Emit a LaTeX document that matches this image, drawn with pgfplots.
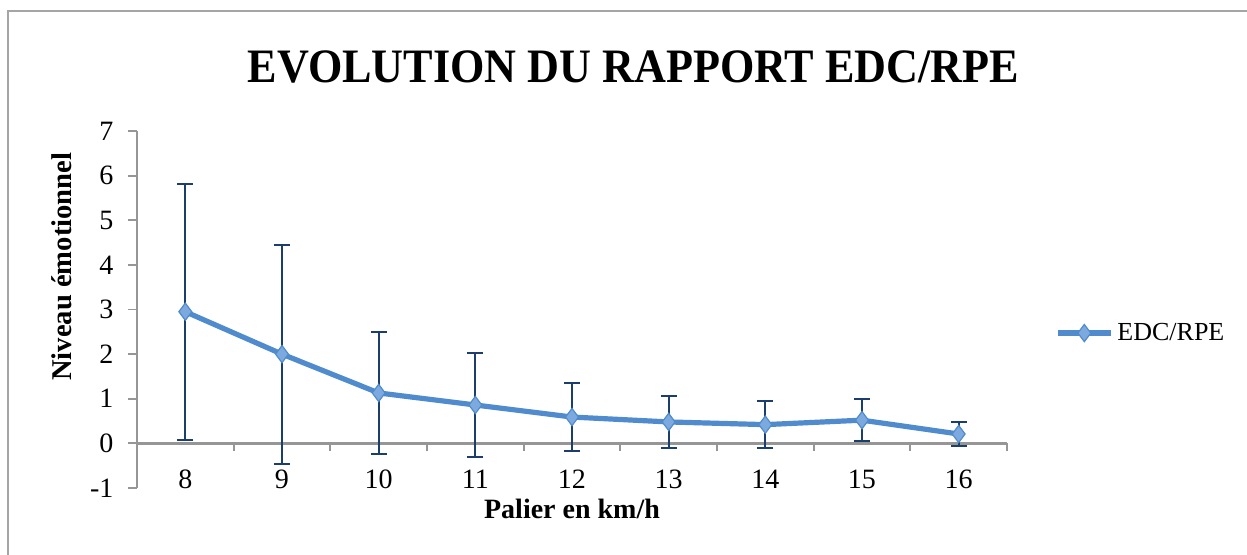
\documentclass[border=0pt]{standalone}
\usepackage{pgfplots}
\pgfplotsset{compat=1.18}
\usepackage{pgfplotstable}
\usepackage{fontspec}
\setmainfont{Liberation Serif}
\usepackage{graphicx}
\definecolor{linecol}{RGB}{80,140,205}
\definecolor{markfill}{RGB}{125,170,222}
\definecolor{errcol}{RGB}{28,62,108}
\definecolor{axisgray}{RGB}{150,150,150}
\definecolor{framegray}{RGB}{165,165,165}
\pgfplotstableread{
x mean err
0 2.95 2.87
1 2.00 2.455
2 1.13 1.37
3 0.86 1.17
4 0.59 0.77
5 0.48 0.59
6 0.42 0.52
7 0.52 0.47
8 0.21 0.26
}\datatable
\begin{document}
\begin{tikzpicture}
\useasboundingbox (0,0) rectangle (623.5pt,277.5pt);
\draw[framegray, line width=1pt] (4pt,-30pt) -- (4pt,272pt) -- (660pt,272pt);
\node[anchor=base, font=\fontsize{24}{28}\selectfont\bfseries] at (316.75pt,236pt) {\scalebox{0.92}[1]{EVOLUTION DU RAPPORT EDC/RPE}};
\begin{axis}[
  scale only axis,
  width=435pt, height=178.5pt,
  at={(68.5pt,33.5pt)}, anchor=south west,
  xmin=-0.5, xmax=8.5, ymin=-1, ymax=7,
  axis x line=middle, axis y line=left,
  axis line style={-, axisgray},
  x axis line style={line width=1.2pt},
  y axis line style={line width=0.9pt},
  xtick={0,...,8},
  xticklabels={8,9,10,11,12,13,14,15,16},
  major x tick style={draw=none},
  minor xtick={-0.5,0.5,...,8.5},
  minor x tick style={axisgray, line width=0.9pt, yshift=-2pt},
  minor tick length=4pt,
  ytick={-1,0,...,7},
  major y tick style={axisgray, line width=0.9pt, xshift=-2.25pt},
  major tick length=4.5pt,
  /pgf/number format/assume math mode=true,
  ticklabel style={font=\fontsize{14}{16}\selectfont},
  xticklabel style={anchor=north, yshift=-7.5pt},
  yticklabel style={anchor=east, xshift=-6pt},
  xlabel={Palier en km/h},
  ylabel={Niveau émotionnel},
  xlabel style={font=\fontsize{14}{16}\selectfont\bfseries, at={(axis description cs:0.5,0)}, anchor=base, yshift=-15.5pt},
  ylabel style={font=\fontsize{14.3}{16}\selectfont\bfseries, at={(axis description cs:-0.086,0.62)}, anchor=center, rotate=0},
  legend style={draw=none, fill=none, at={(axis description cs:1.055,0.434)}, anchor=west, font=\fontsize{13}{15}\selectfont, inner sep=0pt},
  legend cell align=left,
  legend image code/.code={\draw[mark repeat=2,mark phase=2,#1] plot coordinates {(0pt,0pt) (13.25pt,0pt) (26.5pt,0pt)};},
  clip=false,
]
\addplot[color=linecol, line width=2.6pt, mark=diamond*, mark size=4.3pt,
  mark options={fill=markfill, draw=linecol, line width=0.6pt},
  error bars/.cd, y dir=both, y explicit,
  error bar style={color=errcol, line width=1pt},
  error mark options={rotate=90, mark size=4pt, line width=1pt, color=errcol}]
  table[x=x, y=mean, y error=err] {\datatable};
\addlegendentry{EDC/RPE}
\end{axis}
\end{tikzpicture}
\end{document}
